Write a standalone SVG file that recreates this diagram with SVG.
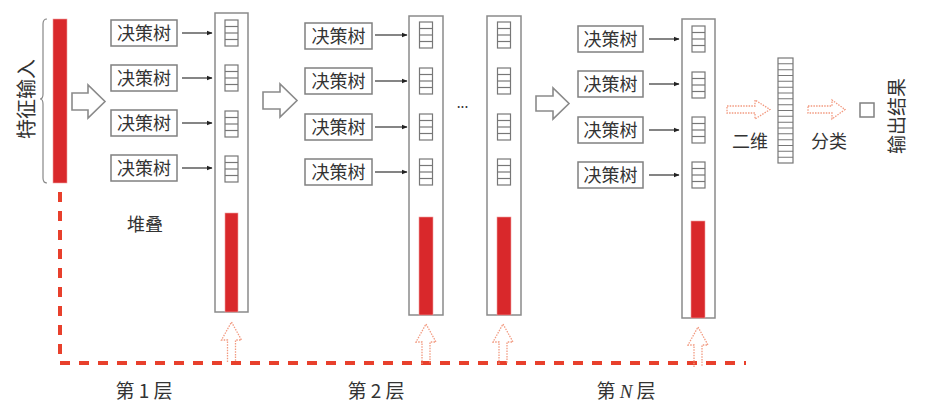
<svg xmlns="http://www.w3.org/2000/svg" width="933" height="403" viewBox="0 0 933 403">
<defs>
<style>
.t{font-family:"Noto Sans CJK SC","Liberation Serif",serif;fill:#333;}
.box{fill:#fff;stroke:#808080;stroke-width:1.5;}
.col{fill:#fff;stroke:#8a8a8a;stroke-width:1.5;}
.cell{fill:#fff;stroke:#777;stroke-width:1.2;}
.red{fill:#d9282b;stroke:#f0a0a0;stroke-width:0.6;}
.hollow{fill:#fff;stroke:#8a8a8a;stroke-width:1.6;stroke-linejoin:miter;}
.dot{fill:none;stroke:#f29a80;stroke-width:1.3;stroke-dasharray:1.5 1.2;}
.dash{fill:none;stroke:#e8402c;stroke-width:4;stroke-dasharray:10 9;}
.ar{stroke:#333;stroke-width:1.2;fill:none;}
</style>
<marker id="ah" viewBox="0 0 10 10" refX="9" refY="5" markerWidth="6" markerHeight="6" orient="auto" markerUnits="userSpaceOnUse">
<path d="M0,1 L10,5 L0,9 z" fill="#222"/>
</marker>
<g id="cell4">
<rect class="cell" x="0" y="0" width="13" height="26"/>
<line x1="0" y1="6.5" x2="13" y2="6.5" stroke="#777" stroke-width="1.2"/>
<line x1="0" y1="13" x2="13" y2="13" stroke="#777" stroke-width="1.2"/>
<line x1="0" y1="19.5" x2="13" y2="19.5" stroke="#777" stroke-width="1.2"/>
</g>
<path id="upArrow" d="M-4,40 L-4,18 L-10,18 L0,0 L10,18 L4,18 L4,40"/>
</defs>
<rect width="933" height="403" fill="#fff"/>

<!-- input -->
<g id="input">
<path d="M47,19 Q43,19 43,24 L43,94 Q43,99 40,99 Q43,99 43,104 L43,178 Q43,183 47,183" fill="none" stroke="#888" stroke-width="1.2"/>
<rect class="red" x="53" y="19" width="14" height="164"/>
<text class="t" x="25" y="99" font-size="20" text-anchor="middle" dominant-baseline="central" transform="rotate(-90 25 99)" fill="#444">特征输入</text>
</g>

<!-- connectors -->
<g id="connectors">
<path class="dash" d="M60,192 L60,363 L746,363"/>
<path class="hollow" d="M72,93 L88,93 L88,85 L105,101.5 L88,118 L88,110 L72,110 Z"/>
<path class="hollow" d="M263,92 L280,92 L280,84 L297,100.5 L280,117 L280,109 L263,109 Z"/>
<path class="hollow" d="M536,96 L553,96 L553,88 L569,103.5 L553,119 L553,111 L536,111 Z"/>
<g class="ar" marker-end="url(#ah)">
<line x1="182" y1="33" x2="212" y2="33"/>
<line x1="182" y1="78" x2="212" y2="78"/>
<line x1="182" y1="123" x2="212" y2="123"/>
<line x1="182" y1="168" x2="212" y2="168"/>
<line x1="375" y1="35" x2="407" y2="35"/>
<line x1="375" y1="81" x2="407" y2="81"/>
<line x1="375" y1="127" x2="407" y2="127"/>
<line x1="375" y1="172" x2="407" y2="172"/>
<line x1="649" y1="39" x2="679" y2="39"/>
<line x1="649" y1="84" x2="679" y2="84"/>
<line x1="649" y1="130" x2="679" y2="130"/>
<line x1="649" y1="175" x2="679" y2="175"/>
</g>
<use href="#upArrow" class="dot" transform="translate(231.5,322)"/>
<use href="#upArrow" class="dot" transform="translate(426,324)"/>
<use href="#upArrow" class="dot" transform="translate(503,324)"/>
<use href="#upArrow" class="dot" transform="translate(698,327)"/>
<path class="dot" d="M727,106 L755,106 L755,100 L770,109.5 L755,119 L755,113 L727,113 Z"/>
<path class="dot" d="M808,106 L832,106 L832,100 L845,109.5 L832,119 L832,113 L808,113 Z"/>
</g>

<!-- layer 1 -->
<g id="layer1-trees">
<rect class="box" x="111" y="20" width="66" height="26"/>
<rect class="box" x="111" y="65" width="66" height="26"/>
<rect class="box" x="111" y="110" width="66" height="26"/>
<rect class="box" x="111" y="155" width="66" height="26"/>
<g class="t" font-size="18" text-anchor="middle">
<text x="144" y="39.5">决策树</text>
<text x="144" y="84.5">决策树</text>
<text x="144" y="129.5">决策树</text>
<text x="144" y="174.5">决策树</text>
</g>
<text class="t" x="145" y="231" font-size="18" text-anchor="middle">堆叠</text>
</g>
<g id="layer1-col">
<rect class="col" x="215" y="13" width="33" height="299"/>
<use href="#cell4" x="225" y="20"/>
<use href="#cell4" x="225" y="65"/>
<use href="#cell4" x="225" y="111"/>
<use href="#cell4" x="225" y="156"/>
<rect class="red" x="225" y="213" width="13" height="99"/>
</g>

<!-- layer 2 -->
<g id="layer2-trees">
<rect class="box" x="305" y="23" width="67" height="26"/>
<rect class="box" x="305" y="68" width="67" height="26"/>
<rect class="box" x="305" y="114" width="67" height="26"/>
<rect class="box" x="305" y="159" width="67" height="26"/>
<g class="t" font-size="18" text-anchor="middle">
<text x="338.5" y="42.5">决策树</text>
<text x="338.5" y="87.5">决策树</text>
<text x="338.5" y="133.5">决策树</text>
<text x="338.5" y="178.5">决策树</text>
</g>
</g>
<g id="layer2-col">
<rect class="col" x="409" y="16" width="34" height="299"/>
<use href="#cell4" x="419.5" y="22"/>
<use href="#cell4" x="419.5" y="68"/>
<use href="#cell4" x="419.5" y="114"/>
<use href="#cell4" x="419.5" y="159"/>
<rect class="red" x="419" y="217" width="14" height="98"/>
</g>
<text class="t" x="462.5" y="108" font-size="14" text-anchor="middle">...</text>
<g id="layer3-col">
<rect class="col" x="487" y="16" width="34" height="299"/>
<use href="#cell4" x="497.5" y="22"/>
<use href="#cell4" x="497.5" y="68"/>
<use href="#cell4" x="497.5" y="114"/>
<use href="#cell4" x="497.5" y="159"/>
<rect class="red" x="497" y="217" width="14" height="98"/>
</g>

<!-- layer N -->
<g id="layerN-trees">
<rect class="box" x="578" y="26" width="65" height="26"/>
<rect class="box" x="578" y="71" width="65" height="26"/>
<rect class="box" x="578" y="117" width="65" height="26"/>
<rect class="box" x="578" y="162" width="65" height="26"/>
<g class="t" font-size="18" text-anchor="middle">
<text x="610.5" y="45.5">决策树</text>
<text x="610.5" y="90.5">决策树</text>
<text x="610.5" y="136.5">决策树</text>
<text x="610.5" y="181.5">决策树</text>
</g>
</g>
<g id="layerN-col">
<rect class="col" x="682" y="19" width="33" height="299"/>
<use href="#cell4" x="692" y="26"/>
<use href="#cell4" x="692" y="72"/>
<use href="#cell4" x="692" y="117"/>
<use href="#cell4" x="692" y="162"/>
<rect class="red" x="691" y="221" width="14" height="97"/>
</g>

<!-- output side -->
<g id="flatten">
<rect class="cell" x="778" y="58" width="15" height="105"/>
<path d="M778,63.8H793M778,69.7H793M778,75.5H793M778,81.3H793M778,87.2H793M778,93H793M778,98.8H793M778,104.7H793M778,110.5H793M778,116.3H793M778,122.2H793M778,128H793M778,133.8H793M778,139.7H793M778,145.5H793M778,151.3H793M778,157.2H793" stroke="#777" stroke-width="1.1"/>
<text class="t" x="750" y="148" font-size="18" text-anchor="middle">二维</text>
</g>
<g id="classify">
<text class="t" x="829" y="148" font-size="18" text-anchor="middle">分类</text>
</g>
<g id="output">
<rect class="box" x="860" y="103" width="14" height="14"/>
<text class="t" x="895" y="116" font-size="19" text-anchor="middle" dominant-baseline="central" transform="rotate(-90 895 116)">输出结果</text>
</g>

<!-- layer labels -->
<g id="labels" class="t" font-size="19" text-anchor="middle">
<text x="144" y="398">第 1 层</text>
<text x="376" y="398">第 2 层</text>
<text x="626" y="398">第 <tspan font-style="italic" font-family="Liberation Serif, serif">N</tspan> 层</text>
</g>
</svg>
